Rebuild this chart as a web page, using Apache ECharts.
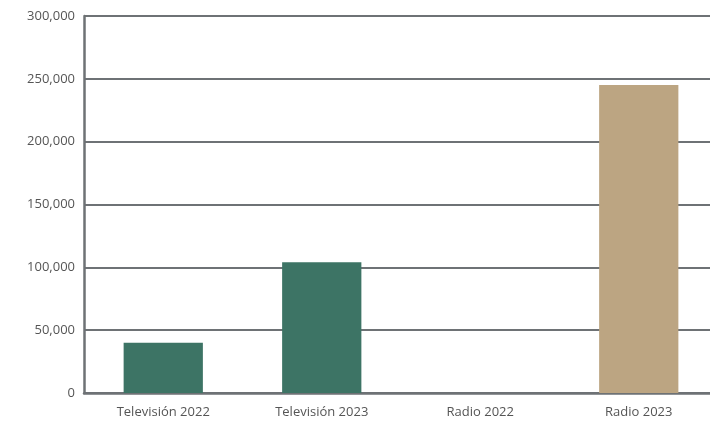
<!DOCTYPE html>
<html>
<head>
<meta charset="utf-8">
<script src="https://cdn.jsdelivr.net/npm/echarts@6/dist/echarts.min.js"></script>
<style>html,body{margin:0;padding:0;background:#fff;overflow:hidden;width:710px;height:423px}#c{width:718px;height:423px}</style>
</head>
<body>
<div id="c"></div>
<script>
const categories = ['Televisión 2022', 'Televisión 2023', 'Radio 2022', 'Radio 2023'];
const values = [40000, 104000, 0, 245000];
const yTicks = [0, 50000, 100000, 150000, 200000, 250000, 300000];

const chart = echarts.init(document.getElementById('c'), null, {renderer: 'canvas'});
chart.setOption({
  animation: false,
  backgroundColor: '#ffffff',
  grid: {left: 84, right: 0, top: 16, bottom: 30, containLabel: false},
  xAxis: {
    type: 'category',
    data: categories,
    axisLine: {show: true, lineStyle: {color: '#6e7275', width: 2.5}},
    axisTick: {show: false},
    axisLabel: {color: '#555', fontSize: 13, fontFamily: 'Open Sans', margin: 13}
  },
  yAxis: {
    type: 'value',
    min: yTicks[0],
    max: yTicks[yTicks.length - 1],
    interval: 50000,
    axisLine: {show: true, lineStyle: {color: '#6e7275', width: 2.5}},
    axisTick: {show: false},
    splitLine: {show: true, lineStyle: {color: '#6e7275', width: 2}},
    axisLabel: {
      color: '#555', fontSize: 13, fontFamily: 'Open Sans', margin: 9,
      formatter: v => v.toLocaleString('en-US')
    }
  },
  series: [{
    type: 'bar',
    barWidth: '50%',
    data: values.map((v, i) => ({
      value: v,
      itemStyle: {color: categories[i].startsWith('Radio') ? '#bca582' : '#3d7465'}
    }))
  }]
});
</script>
</body>
</html>
